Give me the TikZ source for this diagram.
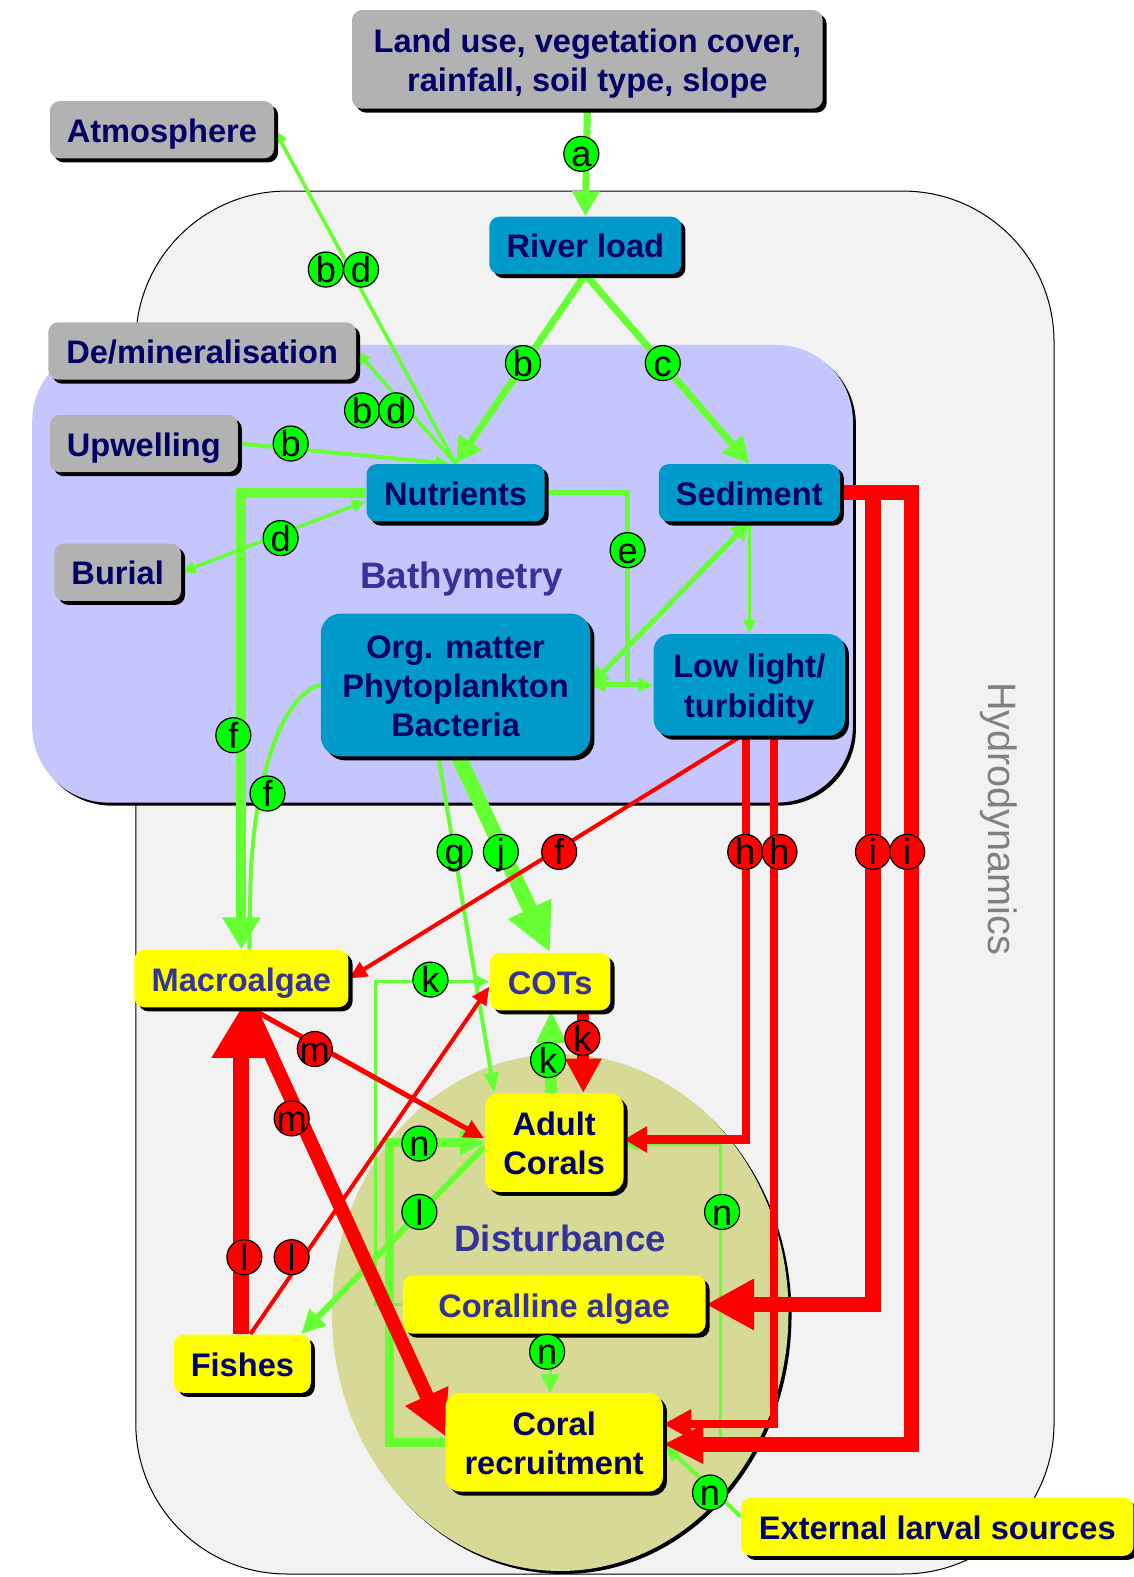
\documentclass[tikz,border=0pt]{standalone}
\usepackage{fontspec}
\setmainfont{Liberation Sans}
\usetikzlibrary{arrows.meta,shadows,calc,backgrounds}
\definecolor{LineGreen}{RGB}{102,255,51}
\definecolor{TagGreen}{RGB}{0,255,0}
\definecolor{LineRed}{RGB}{255,0,0}
\definecolor{BoxNavy}{RGB}{0,0,102}
\definecolor{BoxText}{RGB}{51,51,153}
\definecolor{BoxGray}{RGB}{178,178,178}
\definecolor{BoxBlue}{RGB}{0,153,204}
\definecolor{BoxYellow}{RGB}{255,255,0}
\definecolor{BathyFill}{RGB}{198,198,255}
\definecolor{HydroFill}{RGB}{242,242,242}
\definecolor{HydroText}{RGB}{128,128,128}
\definecolor{DistFill}{RGB}{214,218,150}
\newcommand{\boxfont}{\fontsize{16.2}{19.5}\selectfont\bfseries}
\newcommand{\tagfont}{\fontsize{18}{18}\selectfont}
\newcommand{\tg}[1]{\makebox[0pt]{#1}}
\tikzset{
  base/.style={rounded corners=5pt,align=center,font=\boxfont,text=BoxNavy,inner sep=0pt,text height=12.5pt,text depth=0pt,general shadow={fill=black,shadow xshift=2pt,shadow yshift=-2pt}},
  gbox/.style={base,fill=BoxGray},
  bbox/.style={base,fill=BoxBlue},
  ybox/.style={base,fill=BoxYellow},
  tag/.style={circle,draw=black,line width=0.6pt,minimum size=17.4pt,inner sep=0pt,font=\tagfont,text height=13pt,text depth=0pt},
  gtag/.style={tag,fill=TagGreen},
  rtag/.style={tag,fill=LineRed},
  garr/.style={draw=LineGreen,line width=#1},
  rarr/.style={draw=LineRed,line width=#1},
  head/.style 2 args={-{Triangle[length=#1,width=#2]}},
  dhead/.style 2 args={{Triangle[length=#1,width=#2]}-{Triangle[length=#1,width=#2]}},
}
\begin{document}
\begin{tikzpicture}[x=0.5pt,y=-0.5pt]
  \useasboundingbox (0,0) rectangle (1127,1568);
  \node[gbox,text height=32pt,minimum width=234pt,minimum height=49pt] (land) at (584,59) {Land use, vegetation cover,\\rainfall, soil type, slope};
  \node[gbox,minimum width=111.5pt,minimum height=28.5pt] (atmo) at (161,129) {Atmosphere};
  \node[gbox,minimum width=153pt,minimum height=28.5pt] (demin) at (201,349) {De/mineralisation};
  \node[gbox,minimum width=93.5pt,minimum height=28.5pt] (upw) at (143,441) {Upwelling};
  \node[gbox,minimum width=63pt,minimum height=28.5pt] (burial) at (117,569) {Burial};
  \node[bbox,minimum width=95.5pt,minimum height=28.5pt] (river) at (582,244) {River load};
  \node[bbox,minimum width=88.5pt,minimum height=28.5pt] (nutr) at (453,490) {Nutrients};
  \node[bbox,minimum width=90pt,minimum height=28.5pt] (sed) at (745,490) {Sediment};
  \node[bbox,text height=51.5pt,rounded corners=10pt,minimum width=134pt,minimum height=71pt] (org) at (453,681) {Org. matter\\Phytoplankton\\Bacteria};
  \node[bbox,text height=32pt,rounded corners=8pt,minimum width=95pt,minimum height=50.5pt] (low) at (745,681) {Low light/\\turbidity};
  \node[ybox,text=BoxText,minimum width=106.5pt,minimum height=28.5pt] (macro) at (240,973) {Macroalgae};
  \node[ybox,text=BoxText,minimum width=60pt,minimum height=28.5pt] (cots) at (547,976) {COTs};
  \node[ybox,text height=32pt,rounded corners=7pt,minimum width=69pt,minimum height=49pt] (adult) at (551,1136) {Adult\\Corals};
  \node[ybox,text=BoxText,minimum width=150.5pt,minimum height=29pt] (coralline) at (551,1297) {Coralline algae};
  \node[ybox,minimum width=68pt,minimum height=29pt] (fishes) at (241,1356) {Fishes};
  \node[ybox,text height=32pt,rounded corners=7pt,minimum width=108pt,minimum height=49pt] (recruit) at (551,1434) {Coral\\recruitment};
  \node[ybox,minimum width=195pt,minimum height=29pt] (ext) at (932,1518) {External larval sources};
  \node[font=\fontsize{18.3}{20}\selectfont\bfseries,text=BoxText] (bathy) at (459,576) {Bathymetry};
  \node[font=\fontsize{18.2}{20}\selectfont\bfseries,text=BoxText] (dist) at (557,1231) {Disturbance};
  \node[font=\fontsize{19.7}{20}\selectfont,text=HydroText,rotate=-90] (hydro) at (993,814) {Hydrodynamics};
  \begin{scope}[on background layer]
    \draw[fill=HydroFill,line width=0.5pt,rounded corners=75pt] (135,190) rectangle (1048,1565);
    \fill[black,rounded corners=38pt] (35,346) rectangle (851,801);
    \fill[BathyFill,rounded corners=38pt] (32,343) rectangle (848,798);
    \fill[black] (560,1308) ellipse [x radius=227,y radius=257];
    \fill[DistFill] (557,1305) ellipse [x radius=227,y radius=257];
    \coordinate (ej) at (624,681);
    \coordinate (ia) at (868,1297);
    \coordinate (ib) at (906,1436);
    \draw[garr=3.5pt,head={12.5pt}{13pt}] (land.south) -- (river.north);
    \draw[garr=3.5pt,head={13pt}{13pt}] (river.south) -- (nutr.north);
    \draw[garr=3.5pt,head={13pt}{13pt}] (river.south) -- (sed.north);
    \draw[garr=2pt,head={7pt}{6pt}] (upw.east) -- ($(nutr.north)+(-6,0)$);
    \draw[garr=1.8pt,head={7pt}{6pt}] (nutr.north) -- (atmo.east);
    \draw[garr=1.8pt,head={7pt}{6pt}] (nutr.north) -- (demin.east);
    \draw[garr=1.8pt,dhead={7pt}{6pt}] ($(nutr.west)+(0,8)$) -- (burial.east);
    \draw[garr=2pt] (org.west) .. controls (282,690) and (252,770) .. (249,880) -- ($(macro.north)+(8,0)$);
    \draw[garr=5pt,head={16pt}{18pt}] (nutr.west) -| (macro.north);
    \draw[garr=2.5pt] (nutr.east) -| (ej);
    \draw[garr=2.5pt,head={7.5pt}{7pt}] (ej) -- (org.east);
    \draw[garr=2.5pt,head={7.5pt}{7pt}] (ej) -- (low.west);
    \draw[garr=2.5pt,dhead={9pt}{9pt}] (sed.south) -- (org.east);
    \draw[garr=1.5pt,head={7pt}{6pt}] (sed.south) -- (low.north);
    \draw[garr=2pt,head={10pt}{7pt}] ($(org.south)+(-17,0)$) -- ($(adult.north west)+(10,0)$);
    \draw[garr=7.5pt,head={24pt}{22pt}] ($(org.south)+(3,0)$) -- (cots.north);
    \draw[garr=1.5pt,head={7pt}{6pt}] (coralline.west) -- ++(-27,0) |- (cots.west);
    \draw[garr=6pt,head={16pt}{14pt}] ($(adult.north)+(-3,0)$) -- ($(cots.south)+(1,0)$);
    \draw[garr=3pt,head={12pt}{11pt}] ($(adult.west)+(0,4)$) -- ($(fishes.north east)+(-10,0)$);
    \draw[garr=4.5pt,head={12pt}{12pt}] (recruit.west) -- ++(-55,0) |- (adult.west);
    \draw[garr=1.5pt,head={7pt}{6pt}] (recruit.east) -- ++(57,0) |- ($(adult.east)+(0,2)$);
    \draw[garr=1.5pt,head={9pt}{9pt}] ($(coralline.south)+(-4,0)$) -- ($(recruit.north)+(-4,0)$);
    \draw[garr=2pt,head={8pt}{7pt}] ($(ext.west)+(0,-10)$) -- ($(recruit.east)+(2,3)$);
    \draw[rarr=2pt,head={9pt}{8pt}] ($(low.south)+(-8,0)$) -- (macro.east);
    \draw[rarr=4pt,head={11.5pt}{12.5pt}] ($(low.south)+(-3,0)$) |- ($(adult.east)+(0,-3)$);
    \draw[rarr=4pt,head={14pt}{14pt}] ($(low.south)+(25,0)$) |- ($(recruit.east)+(0,-18)$);
    \draw[rarr=7.5pt,head={24pt}{24pt}] (sed.east) -| (ia) -- (coralline.east);
    \draw[rarr=7.5pt,head={20pt}{18pt}] (sed.east) -| (ib) -- ($(recruit.east)+(0,2)$);
    \draw[rarr=6pt,head={17pt}{17pt}] ($(cots.south)+(33,0)$) -- ($(adult.north)+(29,0)$);
    \draw[rarr=2.5pt,head={10pt}{9pt}] ($(macro.south)+(8,0)$) -- ($(adult.west)+(0,-4)$);
    \draw[rarr=7pt,head={22pt}{22pt}] ($(macro.south)+(8,0)$) -- ($(recruit.west)+(0,-6)$);
    \draw[rarr=8pt,head={25pt}{28pt}] ($(fishes.north)+(-1,0)$) -- (macro.south);
    \draw[rarr=2pt,head={9pt}{8pt}] ($(fishes.north)+(8,0)$) -- ($(cots.west)+(0,5)$);
  \end{scope}
  \node[gtag] (ta) at (578,153) {\tg{a}};
  \node[gtag] (tb1) at (520,361) {\tg{b}};
  \node[gtag] (tc) at (659,361) {\tg{c}};
  \node[gtag] (tb2) at (324,268) {\tg{b}};
  \node[gtag] (td2) at (359,268) {\tg{d}};
  \node[gtag] (tb3) at (360,408) {\tg{b}};
  \node[gtag] (td3) at (394,408) {\tg{d}};
  \node[gtag] (tb4) at (289,441) {\tg{b}};
  \node[gtag] (td4) at (279,535) {\tg{d}};
  \node[gtag] (te) at (624,547) {\tg{e}};
  \node[gtag] (tf1) at (232,731) {\tg{f}};
  \node[gtag] (tf2) at (266,789) {\tg{f}};
  \node[gtag] (tg1) at (452,847) {\tg{g}};
  \node[gtag] (tj) at (498,847) {\tg{j}};
  \node[rtag] (tf3) at (556,847) {\tg{f}};
  \node[rtag] (th1) at (741,847) {\tg{h}};
  \node[rtag] (th2) at (775,847) {\tg{h}};
  \node[rtag] (ti1) at (868,847) {\tg{i}};
  \node[rtag] (ti2) at (902,847) {\tg{i}};
  \node[gtag] (tk1) at (428,974) {\tg{k}};
  \node[rtag] (tk2) at (579,1032) {\tg{k}};
  \node[gtag] (tk3) at (545,1054) {\tg{k}};
  \node[rtag] (tm1) at (313,1043) {\tg{m}};
  \node[rtag] (tm2) at (290,1112) {\tg{m}};
  \node[gtag] (tn1) at (417,1137) {\tg{n}};
  \node[gtag] (tl1) at (417,1205) {\tg{l}};
  \node[gtag] (tn2) at (718,1205) {\tg{n}};
  \node[rtag] (tl2) at (243,1250) {\tg{l}};
  \node[rtag] (tl3) at (290,1250) {\tg{l}};
  \node[gtag] (tn3) at (544,1344) {\tg{n}};
  \node[gtag] (tn4) at (706,1484) {\tg{n}};
\end{tikzpicture}
\end{document}
